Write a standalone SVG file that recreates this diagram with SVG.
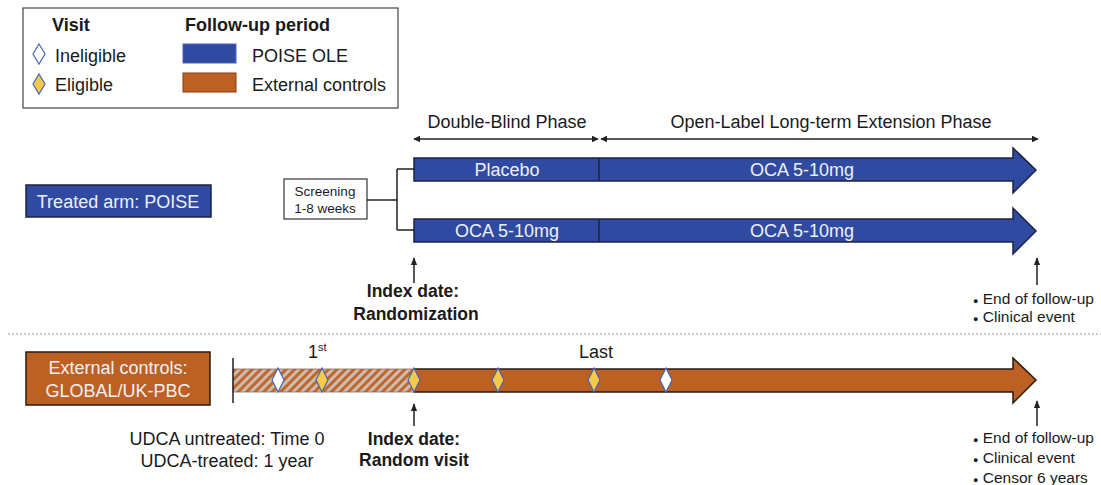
<svg xmlns="http://www.w3.org/2000/svg" width="1101" height="485" viewBox="0 0 1101 485">
<style>
text{font-family:"Liberation Sans",Arial,sans-serif;fill:#1a1a1a}
.b{font-weight:bold}
.w{fill:#eef0f6}
.blue{fill:#2f4aa0;stroke:#1c2340;stroke-width:1.5}
.org{fill:#bd6024;stroke:#2a1a10;stroke-width:1.5}
.ln{stroke:#222;stroke-width:1.5;fill:none}
.dia{stroke:#4a64b0;stroke-width:1.2}
.t{font-size:18px}
.bl{font-size:15.5px}
</style>
<defs>
<marker id="ah" viewBox="0 0 10 10" refX="9" refY="5" markerWidth="7" markerHeight="7" orient="auto-start-reverse" markerUnits="userSpaceOnUse">
<path d="M0,0 L10,5 L0,10 z" fill="#222"/>
</marker>
<marker id="up" viewBox="0 0 10 10" refX="9" refY="5" markerWidth="8" markerHeight="8" orient="auto" markerUnits="userSpaceOnUse">
<path d="M0,1 L10,5 L0,9 z" fill="#222"/>
</marker>
<pattern id="hatch" width="6" height="6" patternUnits="userSpaceOnUse" patternTransform="rotate(45)">
<rect width="6" height="6" fill="#cdbcb0"/>
<rect width="3" height="6" fill="#c0672e"/>
</pattern>
</defs>

<g id="legend">
<rect x="23" y="8" width="375" height="100" fill="#fff" stroke="#444" stroke-width="1.2"/>
<text x="52" y="31" class="b t">Visit</text>
<text x="185" y="31" class="b t">Follow-up period</text>
<path d="M39,44 L45,54 L39,64 L33,54 z" fill="#fff" class="dia"/>
<text x="55" y="62" class="t">Ineligible</text>
<path d="M39,74 L45,84 L39,94 L33,84 z" fill="#f5c94a" class="dia"/>
<text x="55" y="91" class="t">Eligible</text>
<rect x="183" y="44" width="53" height="19" fill="#2f4aa0" stroke="#4a64c0" stroke-width="1"/>
<text x="252" y="62" class="t">POISE OLE</text>
<rect x="183" y="73" width="53" height="19" fill="#bd6024" stroke="#8a3a10" stroke-width="1"/>
<text x="252" y="91" class="t">External controls</text>
</g>

<g id="treated-arm">
<rect x="26" y="185" width="185" height="32" class="blue"/>
<text x="118" y="207.500" text-anchor="middle" class="t w">Treated arm: POISE</text>
</g>

<g id="screening">
<rect x="284" y="179" width="83" height="40" fill="#fff" stroke="#333" stroke-width="1.2"/>
<text x="325" y="196" text-anchor="middle" font-size="13.5">Screening</text>
<text x="325" y="213" text-anchor="middle" font-size="13.5">1-8 weeks</text>
</g>

<g id="placebo-arm">
<path d="M414,158 H1013 V148 L1036,170 L1013,193 V181 H414 z" class="blue"/>
<line x1="599" y1="158" x2="599" y2="181" stroke="#1c2340" stroke-width="1.5"/>
<text x="507" y="176" text-anchor="middle" class="t w">Placebo</text>
<text x="802" y="176" text-anchor="middle" class="t w">OCA 5-10mg</text>
</g>

<g id="oca-arm">
<path d="M414,219 H1013 V208 L1036,231 L1013,254 V242 H414 z" class="blue"/>
<line x1="599" y1="219" x2="599" y2="242" stroke="#1c2340" stroke-width="1.5"/>
<text x="507" y="237" text-anchor="middle" class="t w">OCA 5-10mg</text>
<text x="802" y="237" text-anchor="middle" class="t w">OCA 5-10mg</text>
</g>

<g id="phases">
<text x="507" y="128" text-anchor="middle" class="t">Double-Blind Phase</text>
<text x="831" y="128" text-anchor="middle" class="t">Open-Label Long-term Extension Phase</text>
</g>

<g id="external-controls">
<rect x="26" y="352" width="184" height="53" class="org"/>
<text x="118" y="374" text-anchor="middle" class="t w">External controls:</text>
<text x="118" y="397" text-anchor="middle" class="t w">GLOBAL/UK-PBC</text>
</g>

<g id="control-timeline">
<path d="M414,369 H1013 V358 L1036,380 L1013,403 V392 H414 z" class="org"/>
<rect x="233" y="369" width="181" height="23" fill="url(#hatch)" stroke="#8a6a5a" stroke-width="0.8"/>
<line x1="233" y1="358" x2="233" y2="403" stroke="#222" stroke-width="1.5"/>
<path d="M278,368 L284,380 L278,392 L272,380 z" fill="#fff" class="dia"/>
<path d="M322,368 L328,380 L322,392 L316,380 z" fill="#f5c94a" class="dia"/>
<path d="M414,368 L420,380 L414,392 L408,380 z" fill="#f5c94a" class="dia"/>
<path d="M498,368 L504,380 L498,392 L492,380 z" fill="#f5c94a" class="dia"/>
<path d="M594,368 L600,380 L594,392 L588,380 z" fill="#f5c94a" class="dia"/>
<path d="M666,368 L672,380 L666,392 L660,380 z" fill="#fff" class="dia"/>
<text x="308" y="358" class="t">1<tspan font-size="11" dy="-7">st</tspan></text>
<text x="596" y="358" text-anchor="middle" class="t">Last</text>
</g>

<g id="labels">
<text x="413" y="297" text-anchor="middle" font-size="17.5" class="b">Index date:</text>
<text x="416" y="320" text-anchor="middle" font-size="17.5" class="b">Randomization</text>
<text x="973" y="304" class="bl"><tspan font-size="9">●</tspan> End of follow-up</text>
<text x="973" y="322" class="bl"><tspan font-size="9">●</tspan> Clinical event</text>
<text x="227" y="445" text-anchor="middle" class="t">UDCA untreated:  Time 0</text>
<text x="227" y="467" text-anchor="middle" class="t">UDCA-treated:  1 year</text>
<text x="414" y="445" text-anchor="middle" font-size="17.5" class="b">Index date:</text>
<text x="414" y="466" text-anchor="middle" font-size="17.5" class="b">Random visit</text>
<text x="973" y="443" class="bl"><tspan font-size="9">●</tspan> End of follow-up</text>
<text x="973" y="463" class="bl"><tspan font-size="9">●</tspan> Clinical event</text>
<text x="973" y="483" class="bl"><tspan font-size="9">●</tspan> Censor 6 years</text>
</g>

<g id="connectors">
<path d="M367,200 H397 M397,169 V230 M397,169 H414 M397,230 H414" class="ln"/>
<line x1="414" y1="139" x2="598" y2="139" class="ln" marker-start="url(#ah)" marker-end="url(#ah)"/>
<line x1="601" y1="139" x2="1038" y2="139" class="ln" marker-start="url(#ah)" marker-end="url(#ah)"/>
<line x1="414" y1="283" x2="414" y2="258" class="ln" marker-end="url(#up)"/>
<line x1="1037" y1="285" x2="1037" y2="258" class="ln" marker-end="url(#up)"/>
<line x1="414" y1="426" x2="414" y2="404" class="ln" marker-end="url(#up)"/>
<line x1="1037" y1="426" x2="1037" y2="401" class="ln" marker-end="url(#up)"/>
<line x1="8" y1="334" x2="1101" y2="334" stroke="#999" stroke-width="1.2" stroke-dasharray="2,2"/>
</g>
</svg>
